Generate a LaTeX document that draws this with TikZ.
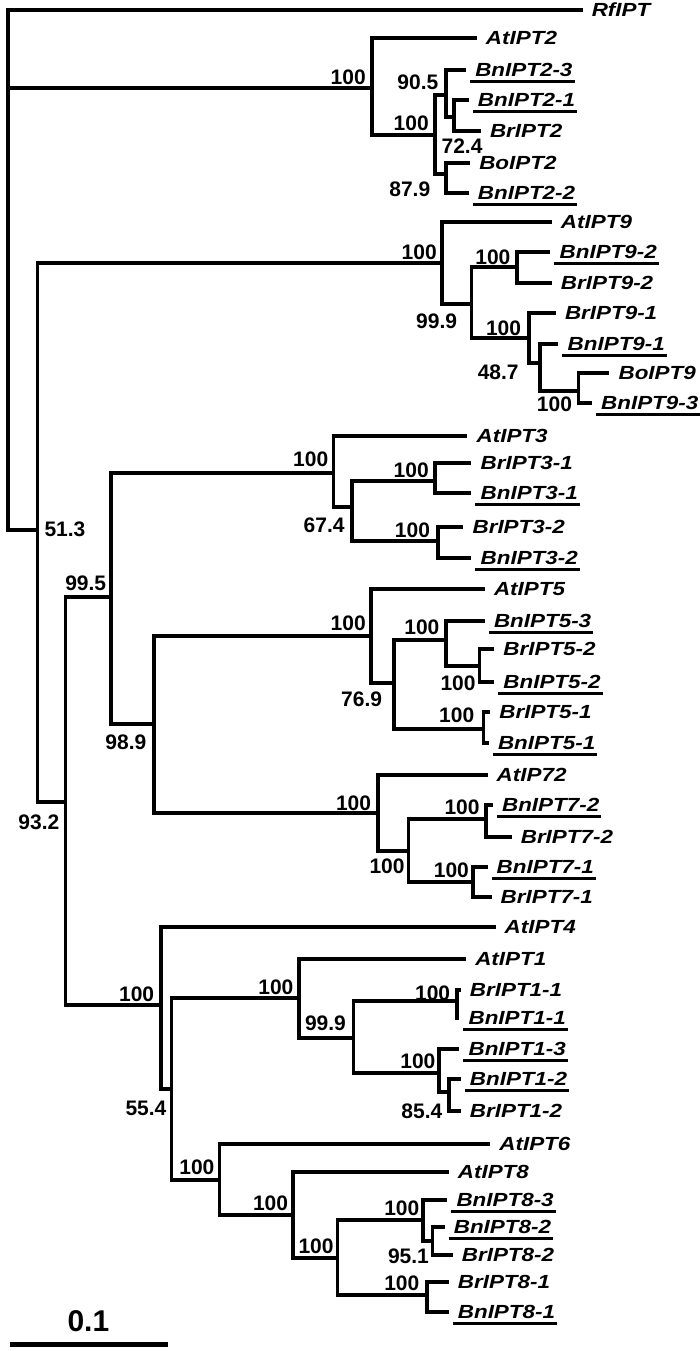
\documentclass[tikz,border=0pt]{standalone}
\usepackage{fontspec}
\setmainfont{Liberation Sans}
\newfontfamily\taxfont[FakeStretch=1.18]{Liberation Sans}
\tikzset{
  rama/.style={line width=3.7pt, line join=miter},
  taxon/.style={anchor=west, inner xsep=9pt, inner ysep=2pt, text height=13.5pt, text depth=0pt,
    font=\taxfont\bfseries\itshape\fontsize{19}{19}\selectfont},
  subr/.style={taxon, append after command={([xshift=4pt,yshift=-2.5pt]\tikzlastnode.south west)
    edge[line width=3.5pt] ([xshift=-7pt,yshift=-2.5pt]\tikzlastnode.south east)}},
  boot/.style={inner sep=0pt, font=\bfseries\fontsize{21}{21}\selectfont},
}
\begin{document}
\begin{tikzpicture}[x=1.3393pt, y=-1pt]
    \useasboundingbox (0,0) rectangle (522.66,1351);
    % Nodos internos
    \coordinate (raiz) at (6,88);
    \coordinate (nA) at (278,88);
    \coordinate (nB) at (325,135);
    \coordinate (nC) at (333,95);
    \coordinate (nD) at (339,117);
    \coordinate (nE) at (333,174);
    \coordinate (n513) at (28,530);
    \coordinate (n9) at (330,263);
    \coordinate (n9a) at (352,304);
    \coordinate (n9b) at (386,267);
    \coordinate (n9c) at (395,338);
    \coordinate (n487) at (403,363);
    \coordinate (n9d) at (432,391);
    \coordinate (n932) at (49,802);
    \coordinate (n995) at (83,597);
    \coordinate (n3) at (249,473);
    \coordinate (n674) at (263,507);
    \coordinate (n3a) at (325,481);
    \coordinate (n3b) at (327,541);
    \coordinate (n989) at (115,724);
    \coordinate (n5) at (277,636);
    \coordinate (n769) at (294,683);
    \coordinate (n5a) at (333,640);
    \coordinate (n5b) at (358,666);
    \coordinate (n5c) at (361,729);
    \coordinate (n7) at (282,813);
    \coordinate (n7a) at (305,851);
    \coordinate (n7b) at (363,819);
    \coordinate (n7c) at (353,882);
    \coordinate (n4) at (120,1005);
    \coordinate (n554) at (128,1089);
    \coordinate (n1) at (223,998);
    \coordinate (n1x) at (264,1038);
    \coordinate (n1a) at (341,1001);
    \coordinate (n1b) at (328,1073);
    \coordinate (n854) at (335,1092);
    \coordinate (n6) at (164,1180);
    \coordinate (n8) at (219,1215);
    \coordinate (n8a) at (252,1258);
    \coordinate (n8b) at (316,1220);
    \coordinate (n951) at (323,1241);
    \coordinate (n8d) at (319,1295);

    % Taxones
    \node[taxon] (RfIPT) at (435,10) {RfIPT};
    \node[taxon] (AtIPT2) at (356,38) {AtIPT2};
    \node[subr] (BnIPT2-3) at (348,70) {BnIPT2-3};
    \node[subr] (BnIPT2-1) at (350,100) {BnIPT2-1};
    \node[taxon] (BrIPT2) at (359,131) {BrIPT2};
    \node[taxon] (BoIPT2) at (351,163) {BoIPT2};
    \node[subr] (BnIPT2-2) at (350,193) {BnIPT2-2};
    \node[taxon] (AtIPT9) at (412,222) {AtIPT9};
    \node[subr] (BnIPT9-2) at (411,252) {BnIPT9-2};
    \node[taxon] (BrIPT9-2) at (412,283) {BrIPT9-2};
    \node[taxon] (BrIPT9-1) at (415,313) {BrIPT9-1};
    \node[subr] (BnIPT9-1) at (417,344) {BnIPT9-1};
    \node[taxon] (BoIPT9) at (455,373) {BoIPT9};
    \node[subr] (BnIPT9-3) at (442,403) {BnIPT9-3};
    \node[taxon] (AtIPT3) at (349,436) {AtIPT3};
    \node[taxon] (BrIPT3-1) at (352,463) {BrIPT3-1};
    \node[subr] (BnIPT3-1) at (352,493) {BnIPT3-1};
    \node[taxon] (BrIPT3-2) at (346,527) {BrIPT3-2};
    \node[subr] (BnIPT3-2) at (352,558) {BnIPT3-2};
    \node[taxon] (AtIPT5) at (362,589) {AtIPT5};
    \node[subr] (BnIPT5-3) at (362,621) {BnIPT5-3};
    \node[taxon] (BrIPT5-2) at (369,649) {BrIPT5-2};
    \node[subr] (BnIPT5-2) at (369,682) {BnIPT5-2};
    \node[taxon] (BrIPT5-1) at (366,712) {BrIPT5-1};
    \node[subr] (BnIPT5-1) at (365,743) {BnIPT5-1};
    \node[taxon] (AtIP72) at (364,775) {AtIP72};
    \node[subr] (BnIPT7-2) at (368,805) {BnIPT7-2};
    \node[taxon] (BrIPT7-2) at (382,837) {BrIPT7-2};
    \node[subr] (BnIPT7-1) at (364,867) {BnIPT7-1};
    \node[taxon] (BrIPT7-1) at (367,897) {BrIPT7-1};
    \node[taxon] (AtIPT4) at (370,927) {AtIPT4};
    \node[taxon] (AtIPT1) at (348,959) {AtIPT1};
    \node[taxon] (BrIPT1-1) at (344,990) {BrIPT1-1};
    \node[subr] (BnIPT1-1) at (343,1018) {BnIPT1-1};
    \node[subr] (BnIPT1-3) at (343,1049) {BnIPT1-3};
    \node[subr] (BnIPT1-2) at (344,1079) {BnIPT1-2};
    \node[taxon] (BrIPT1-2) at (344,1111) {BrIPT1-2};
    \node[taxon] (AtIPT6) at (366,1144) {AtIPT6};
    \node[taxon] (AtIPT8) at (335,1172) {AtIPT8};
    \node[subr] (BnIPT8-3) at (334,1200) {BnIPT8-3};
    \node[subr] (BnIPT8-2) at (332,1227) {BnIPT8-2};
    \node[taxon] (BrIPT8-2) at (338,1255) {BrIPT8-2};
    \node[taxon] (BrIPT8-1) at (335,1282) {BrIPT8-1};
    \node[subr] (BnIPT8-1) at (335,1312) {BnIPT8-1};

    % Raiz
    \draw[rama] (raiz) |- (RfIPT) (raiz) -- (nA) (raiz) |- (n513);
    % Clado IPT2
    \draw[rama] (nA) |- (AtIPT2) (nA) |- (nB);
    \draw[rama] (nB) |- (nC) (nB) |- (nE);
    \draw[rama] (nC) |- (BnIPT2-3) (nC) |- (nD);
    \draw[rama] (nD) |- (BnIPT2-1) (nD) |- (BrIPT2);
    \draw[rama] (nE) |- (BoIPT2) (nE) |- (BnIPT2-2);
    % Clado IPT9
    \draw[rama] (n513) |- (n9) (n513) |- (n932);
    \draw[rama] (n9) |- (AtIPT9) (n9) |- (n9a);
    \draw[rama] (n9a) |- (n9b) (n9a) |- (n9c);
    \draw[rama] (n9b) |- (BnIPT9-2) (n9b) |- (BrIPT9-2);
    \draw[rama] (n9c) |- (BrIPT9-1) (n9c) |- (n487);
    \draw[rama] (n487) |- (BnIPT9-1) (n487) |- (n9d);
    \draw[rama] (n9d) |- (BoIPT9) (n9d) |- (BnIPT9-3);
    % Clados IPT3, IPT5, IPT7
    \draw[rama] (n932) |- (n995) (n932) |- (n4);
    \draw[rama] (n995) |- (n3) (n995) |- (n989);
    \draw[rama] (n3) |- (AtIPT3) (n3) |- (n674);
    \draw[rama] (n674) |- (n3a) (n674) |- (n3b);
    \draw[rama] (n3a) |- (BrIPT3-1) (n3a) |- (BnIPT3-1);
    \draw[rama] (n3b) |- (BrIPT3-2) (n3b) |- (BnIPT3-2);
    \draw[rama] (n989) |- (n5) (n989) |- (n7);
    \draw[rama] (n5) |- (AtIPT5) (n5) |- (n769);
    \draw[rama] (n769) |- (n5a) (n769) |- (n5c);
    \draw[rama] (n5a) |- (BnIPT5-3) (n5a) |- (n5b);
    \draw[rama] (n5b) |- (BrIPT5-2) (n5b) |- (BnIPT5-2);
    \draw[rama] (n5c) |- (BrIPT5-1) (n5c) |- (BnIPT5-1);
    \draw[rama] (n7) |- (AtIP72) (n7) |- (n7a);
    \draw[rama] (n7a) |- (n7b) (n7a) |- (n7c);
    \draw[rama] (n7b) |- (BnIPT7-2) (n7b) |- (BrIPT7-2);
    \draw[rama] (n7c) |- (BnIPT7-1) (n7c) |- (BrIPT7-1);
    % Clados IPT4, IPT1, IPT6, IPT8
    \draw[rama] (n4) |- (AtIPT4) (n4) |- (n554);
    \draw[rama] (n554) |- (n1) (n554) |- (n6);
    \draw[rama] (n1) |- (AtIPT1) (n1) |- (n1x);
    \draw[rama] (n1x) |- (n1a) (n1x) |- (n1b);
    \draw[rama] (n1a) |- (BrIPT1-1) (n1a) |- (BnIPT1-1);
    \draw[rama] (n1b) |- (BnIPT1-3) (n1b) |- (n854);
    \draw[rama] (n854) |- (BnIPT1-2) (n854) |- (BrIPT1-2);
    \draw[rama] (n6) |- (AtIPT6) (n6) |- (n8);
    \draw[rama] (n8) |- (AtIPT8) (n8) |- (n8a);
    \draw[rama] (n8a) |- (n8b) (n8a) |- (n8d);
    \draw[rama] (n8b) |- (BnIPT8-3) (n8b) |- (n951);
    \draw[rama] (n951) |- (BnIPT8-2) (n951) |- (BrIPT8-2);
    \draw[rama] (n8d) |- (BrIPT8-1) (n8d) |- (BnIPT8-1);

    % Valores bootstrap
    \node[boot] (b-nA) at (260,77) {100};
    \node[boot] (b-nB) at (307,123) {100};
    \node[boot] (b-nC) at (312,82) {90.5};
    \node[boot] (b-nD) at (345,146) {72.4};
    \node[boot] (b-nE) at (306,189) {87.9};
    \node[boot] (b-n9) at (313,252) {100};
    \node[boot] (b-n9b) at (368,257) {100};
    \node[boot] (b-n9a) at (326,321) {99.9};
    \node[boot] (b-n9c) at (376,328) {100};
    \node[boot] (b-n487) at (372,372) {48.7};
    \node[boot] (b-n9d) at (414,404) {100};
    \node[boot] (b-n513) at (48.5,529) {51.3};
    \node[boot] (b-n3) at (232,459) {100};
    \node[boot] (b-n674) at (242,525) {67.4};
    \node[boot] (b-n3a) at (307,470) {100};
    \node[boot] (b-n3b) at (308,530) {100};
    \node[boot] (b-n995) at (64,583) {99.5};
    \node[boot] (b-n5) at (260,623) {100};
    \node[boot] (b-n5a) at (315,627) {100};
    \node[boot] (b-n5b) at (342,683) {100};
    \node[boot] (b-n769) at (270,699) {76.9};
    \node[boot] (b-n5c) at (341,715) {100};
    \node[boot] (b-n989) at (94,742) {98.9};
    \node[boot] (b-n7) at (264,803) {100};
    \node[boot] (b-n7b) at (345,807) {100};
    \node[boot] (b-n932) at (29,822) {93.2};
    \node[boot] (b-n7a) at (289,866) {100};
    \node[boot] (b-n7c) at (337,870) {100};
    \node[boot] (b-n4) at (102,994) {100};
    \node[boot] (b-n1) at (206,987) {100};
    \node[boot] (b-n1a) at (323,993) {100};
    \node[boot] (b-n1x) at (243,1023) {99.9};
    \node[boot] (b-n1b) at (312,1061) {100};
    \node[boot] (b-n554) at (109,1108) {55.4};
    \node[boot] (b-n854) at (315,1111) {85.4};
    \node[boot] (b-n6) at (147,1167) {100};
    \node[boot] (b-n8) at (202,1203) {100};
    \node[boot] (b-n8b) at (300,1208) {100};
    \node[boot] (b-n8a) at (236,1246) {100};
    \node[boot] (b-n951) at (305,1256) {95.1};
    \node[boot] (b-n8d) at (300,1283) {100};

    % Escala
    \coordinate (e0) at (7.5,1344);
    \coordinate (e1) at (125.4,1344);
    \draw[line width=5pt] (e0) -- (e1);
    \node[inner sep=0pt, font=\bfseries\fontsize{30}{30}\selectfont] (escala) at (66,1321) {0.1};
\end{tikzpicture}
\end{document}
